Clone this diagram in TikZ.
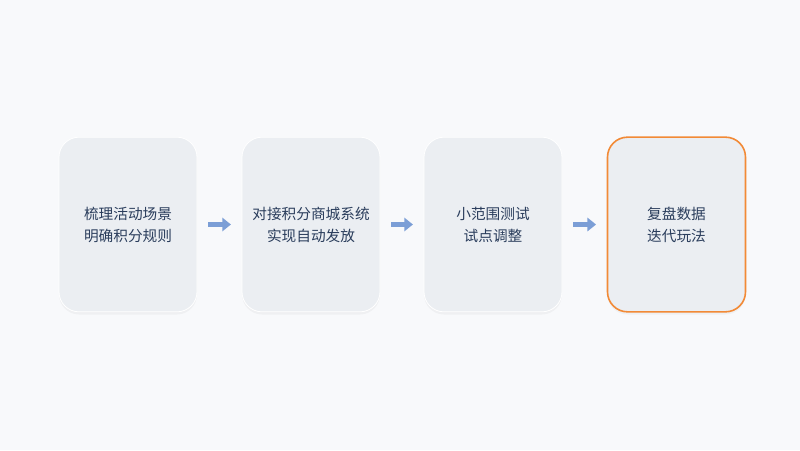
\documentclass[tikz,border=0pt]{standalone}
\usepackage{fontspec}
\setmainfont{Noto Sans CJK SC}
\usetikzlibrary{arrows.meta,shadows}
\definecolor{bgc}{HTML}{F8F9FB}
\definecolor{boxc}{HTML}{EBEEF2}
\definecolor{txtc}{HTML}{2A3D5C}
\definecolor{arrc}{HTML}{7B9ED6}
\definecolor{hotc}{HTML}{F28A36}
\begin{document}
\begin{tikzpicture}[x=0.75pt,y=-0.75pt]
\tikzstyle{stage}=[rounded corners=15pt,minimum width=103.5pt,minimum height=131pt,fill=boxc,draw=white,line width=0.6pt,
  align=center,text=txtc,font=\fontsize{11}{16.5}\selectfont,
  drop shadow={shadow xshift=0pt,shadow yshift=-2pt,opacity=0.035,fill=black}];
\tikzstyle{hot}=[draw=hotc,line width=1.2pt];
\tikzstyle{flow}=[-{Triangle[length=6.5pt,width=10pt]},line width=3.5pt,draw=arrc,shorten <=8pt,shorten >=8pt];
\fill [bgc] (0,0) rectangle (800,450);
\node [stage] (s1) at (128,224.5) {梳理活动场景\\明确积分规则};
\node [stage] (s2) at (311,224.5) {对接积分商城系统\\实现自动发放};
\node [stage] (s3) at (493,224.5) {小范围测试\\试点调整};
\node [stage,hot] (s4) at (676.5,224.5) {复盘数据\\迭代玩法};
\draw [flow] (s1) -- (s2);
\draw [flow] (s2) -- (s3);
\draw [flow] (s3) -- (s4);
\end{tikzpicture}
\end{document}
